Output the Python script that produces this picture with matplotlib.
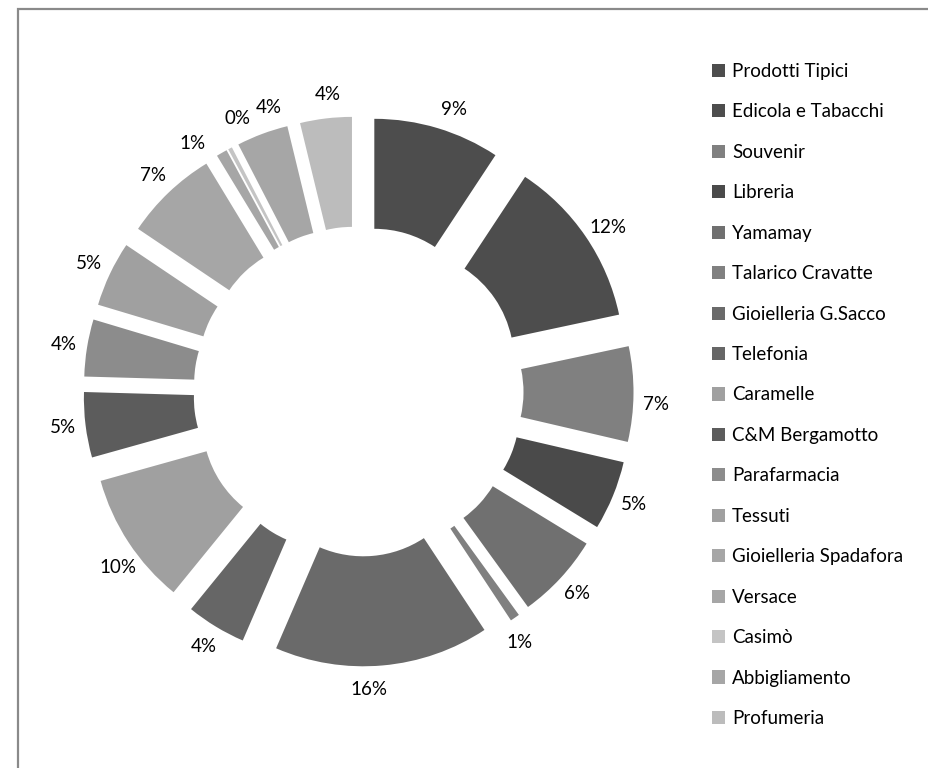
import numpy as np
import matplotlib
matplotlib.use("Agg")
import matplotlib.pyplot as plt
from matplotlib.patches import Rectangle

categories = ["Prodotti Tipici", "Edicola e Tabacchi", "Souvenir", "Libreria", "Yamamay",
              "Talarico Cravatte", "Gioielleria G.Sacco", "Telefonia", "Caramelle",
              "C&M Bergamotto", "Parafarmacia", "Tessuti", "Gioielleria Spadafora",
              "Versace", "Casimò", "Abbigliamento", "Profumeria"]
values = [9.3, 12.4, 7.0, 5.1, 6.3, 0.7, 15.8, 4.4, 9.8, 4.8, 4.2, 4.8, 6.9, 0.8, 0.3, 3.8, 3.8]
colors = ["#4d4d4d", "#4d4d4d", "#808080", "#4a4a4a", "#707070", "#808080", "#6a6a6a",
          "#666666", "#a0a0a0", "#5c5c5c", "#8c8c8c", "#a0a0a0", "#a6a6a6", "#a6a6a6",
          "#c4c4c4", "#a6a6a6", "#bcbcbc"]
# small angular nudges (degrees, clockwise) for crowded labels
label_nudge = [2, 1, 2, 0, 0, 2, 3, 0, -3, 0, 0, 0, 0, -4, 4, 3, 1]

plt.rcParams['font.family'] = ['Lato', 'DejaVu Sans']

W, H = 929, 768
fig = plt.figure(figsize=(W / 100, H / 100), dpi=100)
fig.patch.set_facecolor("white")

# frame (chart area border, clipped at right/bottom)
fig.patches.append(Rectangle((18.5 / W, -0.05), 1.2, 1 - 9.3 / H + 0.05,
                             transform=fig.transFigure, fill=False,
                             edgecolor="#8a8a8a", linewidth=1.6))

ax = fig.add_axes([0, 0, 1, 1])
scale = 220.0
cx, cy = 358.5, 391.5
explode = [0.25] * len(values)
wedges, _ = ax.pie(values, radius=1.0, explode=explode, startangle=90,
                   counterclock=False, colors=colors,
                   wedgeprops=dict(width=0.5, edgecolor="none"))
ax.set_aspect("auto")
ax.set_xlim(-cx / scale, (W - cx) / scale)
ax.set_ylim(-(H - cy) / scale, cy / scale)
ax.axis("off")

total = sum(values)
cum = 0.0
r_lab = 1.355
for v, nd in zip(values, label_nudge):
    mid = (cum + v / 2) / total
    ang = np.deg2rad(90 - 360 * mid - nd)
    ax.text(r_lab * np.cos(ang), r_lab * np.sin(ang), f"{round(100 * v / total):d}%",
            ha="center", va="center", fontsize=13.5, color="black")
    cum += v

leg = fig.legend(wedges, categories, loc="upper left",
                 bbox_to_anchor=(712 / W, 1 - 63 / H), frameon=False,
                 fontsize=13.5, handlelength=0.7, handleheight=0.7,
                 handletextpad=0.37, labelspacing=1.25, borderpad=0,
                 borderaxespad=0)

fig.savefig("out.png", dpi=100, facecolor="white")
